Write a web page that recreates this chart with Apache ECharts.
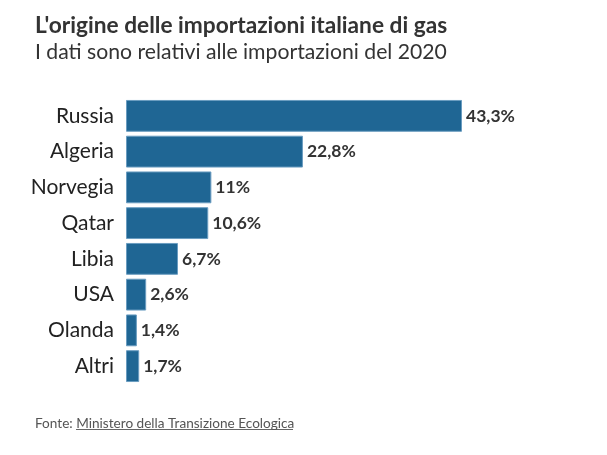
<!DOCTYPE html>
<html><head><meta charset="utf-8">
<script src="https://cdn.jsdelivr.net/npm/echarts@6/dist/echarts.min.js"></script>
<style>html,body{margin:0;padding:0;background:#fff}#c{width:607px;height:455px}</style>
</head><body><div id="c"></div>
<script>
const categories = ["Russia","Algeria","Norvegia","Qatar","Libia","USA","Olanda","Altri"];
const values = [43.3,22.8,11,10.6,6.7,2.6,1.4,1.7];
const valueLabels = ["43,3%","22,8%","11%","10,6%","6,7%","2,6%","1,4%","1,7%"];
const FONT = "Lato";
const chart = echarts.init(document.getElementById('c'), null, {renderer:'canvas'});
chart.setOption({
  backgroundColor:'#fff',
  animation:false,
  title:[{
    text:"L'origine delle importazioni italiane di gas",
    left:30, top:9,
    textStyle:{fontFamily:FONT,fontWeight:'bold',fontSize:22.7,color:'#333'},
    subtext:"I dati sono relativi alle importazioni del 2020",
    itemGap:5,
    subtextStyle:{fontFamily:FONT,fontSize:21.2,color:'#333'}
  },{
    text:"Fonte: {u|Ministero della Transizione Ecologica}",
    left:30, top:412,
    textStyle:{fontFamily:FONT,fontWeight:'normal',fontSize:13.6,color:'#555',
      rich:{u:{fontFamily:FONT,fontWeight:'normal',fontSize:13.6,color:'#555'}}}
  }],
  grid:{left:126, top:98, width:388, height:286},
  xAxis:{type:'value', min:0, max:50, show:false},
  yAxis:{type:'category', data:categories, inverse:true,
    axisLine:{show:false}, axisTick:{show:false},
    axisLabel:{fontFamily:FONT,fontSize:21,color:'#222',margin:12}},
  series:[{
    type:'bar', data:values, barCategoryGap:'11%',
    itemStyle:{color:'#1f6694',borderColor:'#6a9cc0',borderWidth:1},
    label:{show:true, position:'right', distance:4,
      formatter:p=>valueLabels[p.dataIndex],
      fontFamily:FONT,fontWeight:'bold',fontSize:17.5,color:'#333'}
  }],
  graphic:[{type:'line', shape:{x1:76,y1:429.5,x2:293,y2:429.5}, style:{stroke:'#666',lineWidth:1}}]
});
</script></body></html>
